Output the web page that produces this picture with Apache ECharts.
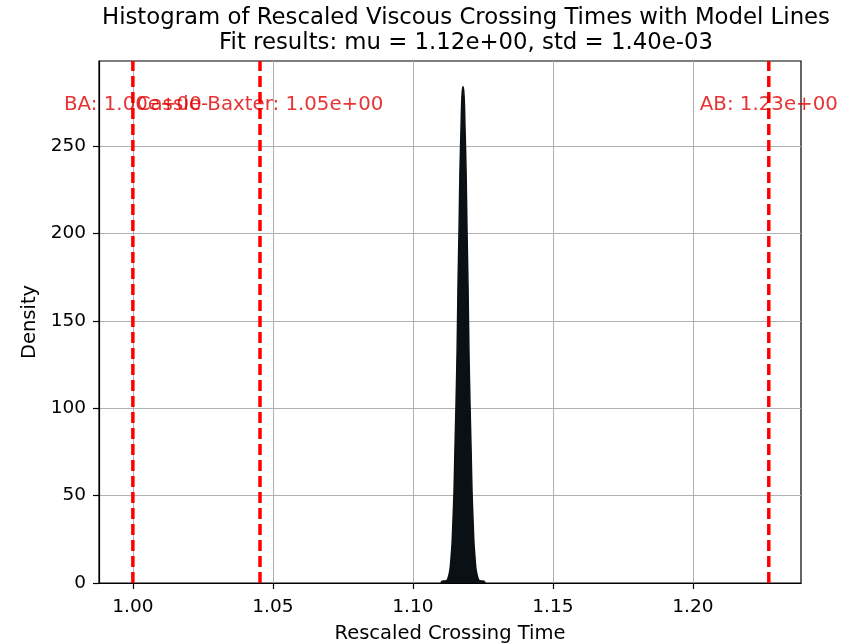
<!DOCTYPE html>
<html>
<head>
<meta charset="utf-8">
<script src="https://cdn.jsdelivr.net/npm/echarts@6/dist/echarts.min.js"></script>
<style>html,body{margin:0;padding:0;background:#fff}#c{width:856px;height:644px}</style>
</head>
<body>
<div id="c"></div>
<script>
// Histogram / fit outline (x = rescaled crossing time, y = density)
const peakX = [1.1100,1.1104,1.1115,1.1122,1.1125,1.1129,1.1133,1.1136,1.1140,1.1143,1.1147,1.1150,1.1154,1.1158,1.1161,1.1165,1.1168,1.1172,1.1175,1.1179,1.1183,1.1186,1.1190,1.1193,1.1197,1.1200,1.1204,1.1208,1.1211,1.1215,1.1218,1.1222,1.1225,1.1229,1.1233,1.1236,1.1243,1.1254,1.1258];
const peakY = [0,1.0,1.2,1.6,2.6,4.8,8.4,14,23,35,53,75,102,134,169,204,235,261,278,284,278,261,235,204,169,134,102,75,53,35,23,14,8.4,4.8,2.6,1.6,1.2,1.0,0];
// Model lines
const modelNames = ['BA','Cassie-Baxter','AB'];
const modelValues = [1.000,1.0454,1.2271];
const modelLabels = ['BA: 1.00e+00','Cassie-Baxter: 1.05e+00','AB: 1.23e+00'];
const modelLabelY = 273.5;
// Axis ticks
const xTicks = [1.00,1.05,1.10,1.15,1.20];
const yTicks = [0,50,100,150,200,250];
const yMin = 0, yMax = 298.6;
const xMin = 0.9879, xMax = 1.2386;
const titleLines = ['Histogram of Rescaled Viscous Crossing Times with Model Lines','Fit results: mu = 1.12e+00, std = 1.40e-03'];

const FONT = 'DejaVu Sans';
const chart = echarts.init(document.getElementById('c'), null, {renderer:'canvas'});
const peakData = peakX.map((x,i)=>[x,peakY[i]]);
const modelSeries = modelValues.map((v,i)=>({
  type:'line', name:modelNames[i], data:[[v,yMin],[v,yMax]], symbol:'none', z:5, silent:true,
  lineStyle:{color:'#ff0000',type:[11,5],width:3.5}
}));
chart.setOption({
  animation:false,
  backgroundColor:'#ffffff',
  title:{
    text: titleLines.join('\n'),
    left: 461, top: 0, textAlign:'center',
    textStyle:{fontFamily:FONT,fontSize:22.8,fontWeight:'normal',color:'#000',lineHeight:25.5}
  },
  grid:{left:99,right:55,top:61,bottom:61,show:true,borderColor:'#000',borderWidth:1.2,backgroundColor:'transparent',
    containLabel:false,outerBoundsMode:'none'},
  xAxis:{
    type:'value', min:xMin, max:xMax,
    name:'Rescaled Crossing Time', nameLocation:'middle', nameGap:41,
    nameTextStyle:{fontFamily:FONT,fontSize:19.5,color:'#000'},
    axisLine:{show:true,onZero:false,lineStyle:{color:'#000',width:1.2}},
    axisTick:{show:true,length:6,lineStyle:{color:'#000',width:1.2},customValues:xTicks},
    axisLabel:{customValues:xTicks,formatter:v=>v.toFixed(2),fontFamily:FONT,fontSize:18.5,color:'#000',margin:15},
    splitLine:{show:true,lineStyle:{color:'#b0b0b0',width:1}}
  },
  yAxis:{
    type:'value', min:yMin, max:yMax, interval:50,
    name:'Density', nameLocation:'middle', nameGap:56,
    nameTextStyle:{fontFamily:FONT,fontSize:19.5,color:'#000'},
    axisLine:{show:true,lineStyle:{color:'#000',width:1.2}},
    axisTick:{show:true,length:6,lineStyle:{color:'#000',width:1.2},customValues:yTicks},
    axisLabel:{customValues:yTicks,fontFamily:FONT,fontSize:18.5,color:'#000',margin:13},
    splitLine:{show:true,lineStyle:{color:'#b0b0b0',width:1}}
  },
  series:[
    {
      type:'line', data:peakData, symbol:'none', smooth:0.3, z:3,
      lineStyle:{color:'#0b1015',width:1.5},
      areaStyle:{color:'#0b1015',opacity:1}
    },
    ...modelSeries,
    {
      type:'scatter', symbolSize:0, z:6, silent:true,
      data: modelValues.map((v,i)=>({value:[v,modelLabelY],name:modelNames[i]})),
      label:{show:true,position:'inside',formatter:p=>modelLabels[p.dataIndex],
        fontFamily:FONT,fontSize:19.8,color:'#e00000'}
    }
  ]
});
</script>
</body>
</html>
